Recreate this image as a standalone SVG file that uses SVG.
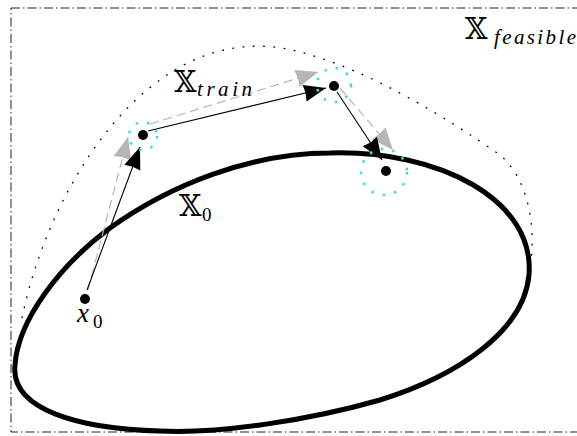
<svg xmlns="http://www.w3.org/2000/svg" width="577" height="436" viewBox="0 0 577 436">
<style>
.frame{fill:none;stroke:#222;stroke-width:1;stroke-dasharray:9 3 1.5 3}
.feas{fill:none;stroke:#000;stroke-width:1.3;stroke-dasharray:1.8 8.5}
.x0set{fill:none;stroke:#000;stroke-width:5}
.blk{fill:none;stroke:#000;stroke-width:1.1}
.gry{fill:none;stroke:#b5b5b5;stroke-width:1.2;stroke-dasharray:9 5}
.ring{fill:none;stroke:#3fe0cf;stroke-width:2.6;stroke-dasharray:2.6 9}
.dot{fill:#000}
.bb{font-family:"DejaVu Serif","DejaVu Sans",serif;font-size:29px;fill:#000}
.it{font-family:"Liberation Serif",serif;font-style:italic;fill:#000}
.rm{font-family:"Liberation Serif",serif;fill:#000}
</style>
<defs>
<marker id="hb" viewBox="-24 -10 25 20" refX="0" refY="0" markerWidth="25" markerHeight="20" markerUnits="userSpaceOnUse" orient="auto">
<path d="M0,0 L-22,-8.5 L-21,0 L-22,8.5 Z" fill="#000"/>
</marker>
<marker id="hg" viewBox="-24 -10 25 20" refX="0" refY="0" markerWidth="25" markerHeight="20" markerUnits="userSpaceOnUse" orient="auto">
<path d="M0,0 L-22,-9 L-21,0 L-22,9 Z" fill="#b5b5b5"/>
</marker>
</defs>
<g id="frame">
<rect class="frame" x="11" y="8" width="600" height="424"/>
</g>
<g id="x0-set">
<path class="x0set" d="M330,153 C440,150 535,200 529,275 C524,330 460,375 380,400 C310,420 220,434 160,431 C80,429 10,410 15,365 C18,320 60,265 110,228 C170,185 250,153 330,153 Z"/>
</g>
<g id="feasible-set">
<path class="feas" d="M22,318 C40,230 90,130 160,80 C200,50 250,38 300,52 C370,70 450,120 500,155 C530,180 535,230 531,260"/>
</g>
<g id="connectors">
<line class="gry" x1="88" y1="290" x2="128" y2="137" marker-end="url(#hg)"/>
<line class="gry" x1="150" y1="124" x2="318" y2="72" marker-end="url(#hg)"/>
<line class="gry" x1="340" y1="88" x2="393" y2="150" marker-end="url(#hg)"/>
<line class="blk" x1="87" y1="290" x2="140" y2="147" marker-end="url(#hb)"/>
<line class="blk" x1="148" y1="131" x2="326" y2="88" marker-end="url(#hb)"/>
<line class="blk" x1="337" y1="92" x2="382" y2="160" marker-end="url(#hb)"/>
</g>
<g id="node-x0">
<circle class="dot" cx="85" cy="299" r="5"/>
<text class="it" x="77" y="322" font-size="27">x</text>
<text class="rm" x="93" y="328" font-size="19">0</text>
</g>
<g id="node-1">
<circle class="ring" cx="143" cy="136" r="14"/>
<circle class="dot" cx="143" cy="135" r="5"/>
</g>
<g id="node-2">
<circle class="ring" cx="334" cy="85" r="17"/>
<circle class="dot" cx="334" cy="86" r="5"/>
</g>
<g id="node-3">
<circle class="ring" cx="384" cy="172" r="23"/>
<circle class="dot" cx="386" cy="171" r="5"/>
</g>
<g id="labels">
<text class="bb" x="465" y="39">𝕏</text>
<text class="it" x="494" y="44" font-size="21" textLength="82" lengthAdjust="spacing">feasible</text>
<text class="bb" x="174" y="92">𝕏</text>
<text class="it" x="197" y="96" font-size="21" textLength="55" lengthAdjust="spacing">train</text>
<text class="bb" x="179" y="216">𝕏</text>
<text class="rm" x="202" y="221" font-size="19">0</text>
</g>
</svg>
